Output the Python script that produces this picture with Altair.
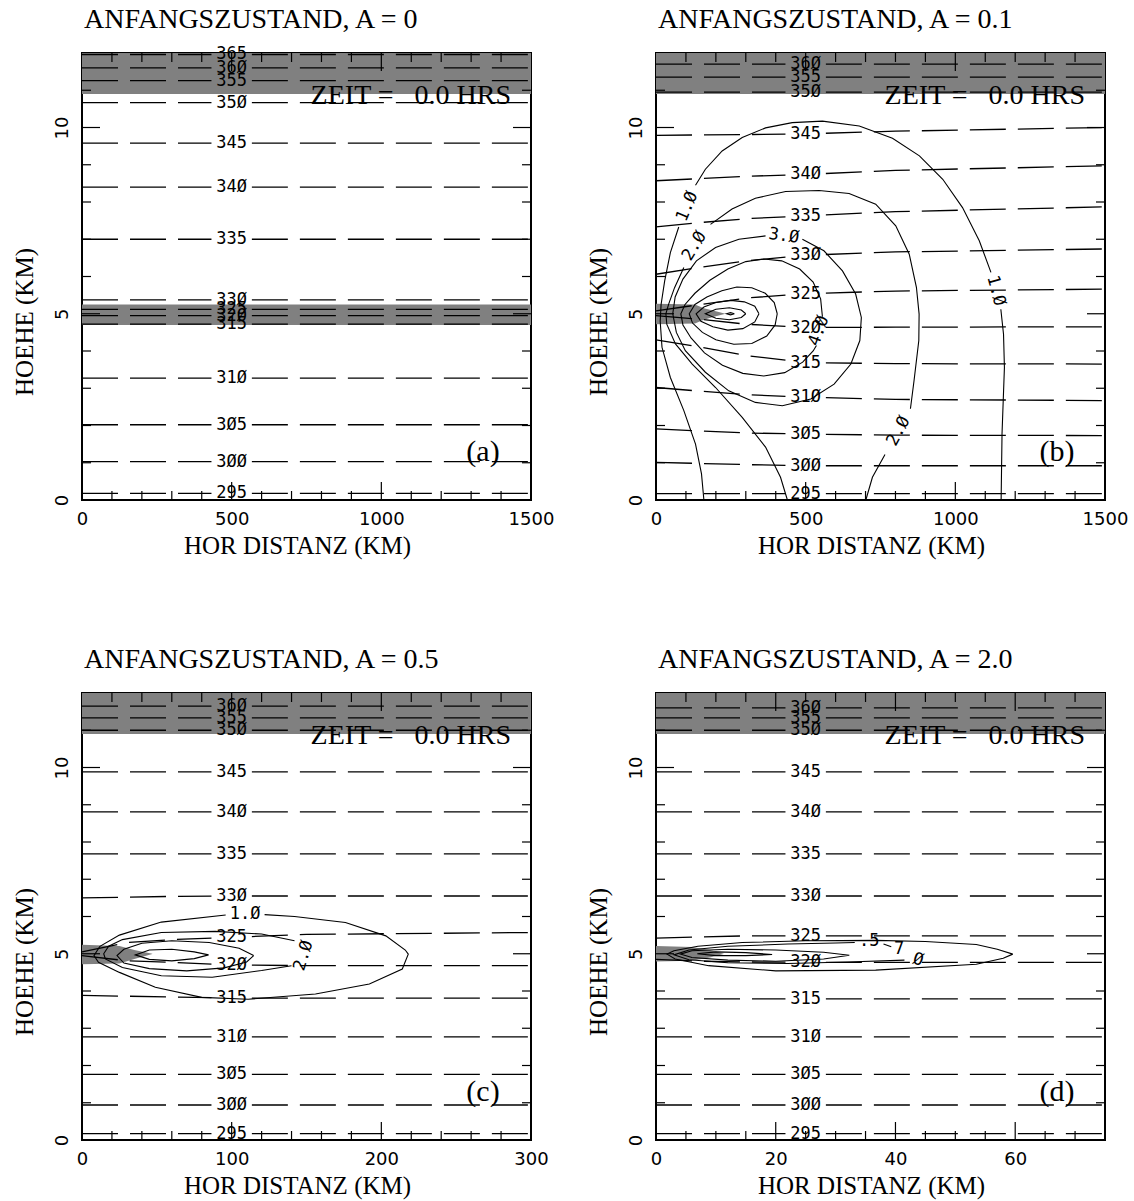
import altair as alt
import numpy as np
import pandas as pd

# ------------------------------------------------------------------ styling
SERIF = "Liberation Serif"
SANS = "DejaVu Sans"
MONO = "DejaVu Sans Mono"
GRAY = "#808080"
W, H = 449, 447          # plot area of every panel (px)
ZMAX = 12.0              # height axis (km)

# ------------------------------------------------------------------ isentropes (theta in K, height in km)
LEVELS = [295, 300, 305, 310, 315, 320, 325, 330, 335, 340, 345, 350, 355, 360, 365]

A_Z = {295: 0.18, 300: 1.03, 305: 2.02, 310: 3.27, 315: 4.72, 320: 4.95, 325: 5.12,
       330: 5.37, 335: 7.00, 340: 8.40, 345: 9.58, 350: 10.67, 355: 11.26, 360: 11.60,
       365: 11.96}

B_KNOTS = [0, 150, 300, 500, 800, 1500]
B_Z = {295: 0.17,
       300: [1.01, 0.98, 0.95, 0.92, 0.92, 0.92],
       305: [1.91, 1.85, 1.80, 1.77, 1.74, 1.73],
       310: [3.02, 2.92, 2.83, 2.76, 2.70, 2.67],
       315: [4.30, 4.10, 3.88, 3.69, 3.66, 3.65],
       320: [4.95, 4.85, 4.72, 4.63, 4.64, 4.65],
       325: [5.08, 5.25, 5.42, 5.54, 5.61, 5.66],
       330: [6.06, 6.25, 6.42, 6.57, 6.66, 6.74],
       335: [7.33, 7.45, 7.55, 7.63, 7.74, 7.87],
       340: [8.57, 8.63, 8.69, 8.74, 8.85, 8.97],
       345: [9.79, 9.80, 9.81, 9.83, 9.90, 10.00],
       350: 10.95, 355: 11.35, 360: 11.70}

C_KNOTS = [0, 30, 60, 100, 150, 300]
C_Z = {295: 0.17, 300: 0.94, 305: 1.76, 310: 2.77,
       315: [3.88, 3.86, 3.84, 3.81, 3.81, 3.81],
       320: [4.95, 4.81, 4.77, 4.70, 4.68, 4.68],
       325: [5.05, 5.30, 5.38, 5.44, 5.52, 5.57],
       330: [6.50, 6.52, 6.54, 6.55, 6.55, 6.55],
       335: 7.68, 340: 8.81, 345: 9.88, 350: 11.00, 355: 11.33, 360: 11.65}

D_KNOTS = [0, 7.5, 15, 25, 37.5, 75]
D_Z = {295: 0.17, 300: 0.94, 305: 1.76, 310: 2.77, 315: 3.79,
       320: [4.85, 4.80, 4.78, 4.77, 4.77, 4.77],
       325: [5.42, 5.45, 5.48, 5.48, 5.48, 5.48],
       330: 6.55, 335: 7.68, 340: 8.81, 345: 9.88, 350: 11.00, 355: 11.33, 360: 11.60}

# ------------------------------------------------------------------ shaded (high PV) regions
TOP_BAND = (10.9, 12.0)
A_MID_BAND = (4.70, 5.25)
B_TONGUE_X = [0, 130, 160, 200, 232]
B_TONGUE_LO = [4.72, 4.74, 4.84, 4.93, 5.00]
B_TONGUE_HI = [5.27, 5.25, 5.15, 5.07, 5.00]
C_TONGUE_X = [0, 25, 35, 47]
C_TONGUE_LO = [4.72, 4.74, 4.86, 4.99]
C_TONGUE_HI = [5.24, 5.21, 5.10, 5.00]
D_TONGUE_X = [0, 6, 9, 11.3]
D_TONGUE_LO = [4.79, 4.81, 4.90, 4.99]
D_TONGUE_HI = [5.21, 5.18, 5.10, 5.00]

# ------------------------------------------------------------------ anomaly contours (x km, z km)
B_CONTOURS = {
    "1a": [(1153, 0.0), (1156, 1.77), (1164, 3.56), (1161, 4.45), (1152, 5.12)],
    "1b": [(1119, 6.11), (1080, 6.96), (1024, 7.85), (958, 8.61), (880, 9.24), (790, 9.71),
           (679, 10.04), (556, 10.17), (455, 10.13), (366, 9.99), (288, 9.73), (221, 9.37),
           (165, 8.88), (132, 8.45)],
    "1c": [(76, 7.33), (48, 6.64), (29, 5.88), (17, 5.25), (14, 4.80), (20, 4.10), (48, 3.29),
           (93, 2.40), (132, 1.50), (152, 0.70), (160, 0.0)],
    "2a": [(701, 0.0), (723, 0.61), (765, 1.22)],
    "2b": [(850, 2.45), (862, 3.20), (878, 4.28), (879, 4.99), (870, 5.71), (846, 6.60),
           (801, 7.36), (734, 7.94), (645, 8.23), (545, 8.31), (433, 8.28), (332, 8.10),
           (254, 7.81), (182, 7.40)],
    "2c": [(93, 6.24), (62, 5.70), (42, 5.25), (33, 5.00), (36, 4.72), (65, 4.19), (121, 3.65),
           (199, 3.02), (288, 2.22), (366, 1.42), (416, 0.61), (439, 0.0)],
    "3": [(489, 7.00), (561, 6.69), (623, 6.15), (667, 5.53), (686, 4.90), (681, 4.28),
          (651, 3.65), (595, 3.11), (517, 2.71), (422, 2.53), (332, 2.62), (243, 2.93),
          (165, 3.43), (98, 4.01), (68, 4.50), (56, 5.00), (64, 5.45), (90, 5.93), (135, 6.42),
          (199, 6.78), (277, 7.00), (366, 7.09)],
    "4": [(556, 4.92), (550, 5.40), (525, 5.85), (480, 6.20), (420, 6.42), (360, 6.47),
          (300, 6.40), (240, 6.20), (180, 5.90), (130, 5.55), (97, 5.25), (83, 5.00), (90, 4.70),
          (117, 4.35), (162, 3.95), (222, 3.62), (290, 3.40), (360, 3.33), (430, 3.42),
          (490, 3.70), (525, 4.00), (536, 4.15)],
    "5": [(405, 5.00), (395, 5.30), (365, 5.55), (320, 5.70), (270, 5.72), (220, 5.62),
          (170, 5.45), (130, 5.25), (111, 5.00), (122, 4.75), (155, 4.50), (200, 4.30),
          (260, 4.18), (320, 4.20), (370, 4.40), (398, 4.70), (405, 5.00)],
    "6": [(344, 5.00), (330, 5.20), (295, 5.32), (250, 5.36), (200, 5.30), (160, 5.18),
          (134, 5.00), (150, 4.80), (190, 4.65), (240, 4.56), (290, 4.60), (330, 4.78),
          (344, 5.00)],
    "7": [(300, 5.00), (285, 5.10), (245, 5.16), (200, 5.12), (165, 5.00), (200, 4.88),
          (245, 4.84), (285, 4.90), (300, 5.00)],
    "8": [(262, 5.00), (249, 5.03), (236, 5.00), (249, 4.97), (262, 5.00)],
}
B_LABELS = [(1136, 5.62, "1.Ø", 75), (104, 7.88, "1.Ø", 293), (810, 1.85, "2.Ø", 299),
            (128, 6.82, "2.Ø", 302), (427, 7.09, "3.Ø", 8), (544, 4.54, "4.Ø", 290)]

C_CONTOURS = {
    "1": [(122, 6.05), (142, 6.00), (176, 5.84), (203, 5.48), (216, 5.10), (218, 4.99),
          (214, 4.59), (192, 4.19), (156, 3.92), (111, 3.78), (80, 3.83), (49, 4.10), (25, 4.50),
          (11, 4.77), (8, 4.95), (12, 5.20), (25, 5.50), (53, 5.85), (96, 6.04)],
    "2": [(142, 5.35), (120, 5.53), (89, 5.60), (53, 5.57), (27, 5.38), (17.8, 5.20),
          (14.5, 5.00), (15.6, 4.86), (27, 4.63), (53, 4.41), (87, 4.37), (120, 4.55),
          (140, 4.68)],
    "3": [(114.7, 4.95), (105, 5.15), (85, 5.30), (60, 5.35), (40, 5.28), (28, 5.12),
          (23.4, 4.95), (28, 4.75), (45, 4.60), (70, 4.54), (95, 4.62), (110, 4.78),
          (114.7, 4.95)],
    "4": [(84.6, 4.97), (75, 5.05), (60, 5.12), (45, 5.10), (35.6, 4.97), (45, 4.85),
          (60, 4.81), (75, 4.87), (84.6, 4.97)],
}
C_LABELS = [(109, 6.06, "1.Ø", 0), (148, 4.95, "2.Ø", 287)]

D_CONTOURS = {
    "1": [(59.6, 4.99), (57, 5.12), (53.5, 5.25), (45, 5.33), (36.7, 5.36), (25, 5.35),
          (14.4, 5.30), (7, 5.20), (3, 5.08), (1.84, 4.99), (3.2, 4.86), (8.8, 4.68),
          (20, 4.54), (36.7, 4.56), (53.5, 4.72), (58, 4.88), (59.6, 4.99)],
    "2a": [(41.5, 4.83), (32, 4.78), (22, 4.74), (12, 4.76), (5.5, 4.84), (3.0, 4.97),
           (5.5, 5.10), (12, 5.20), (22, 5.26), (30, 5.29), (33.2, 5.30)],
    "2b": [(38.0, 5.26), (39.3, 5.19)],
    "3": [(32.3, 4.96), (28, 5.04), (20, 5.10), (12, 5.12), (6, 5.08), (4.07, 4.99), (6, 4.90),
          (12, 4.83), (20, 4.80), (28, 4.86), (32.3, 4.96)],
    "4": [(19.4, 4.98), (15, 5.03), (10, 5.05), (6.9, 5.00), (10, 4.95), (15, 4.95),
          (19.4, 4.98)],
}
D_LABELS = [(35.6, 5.33, ".5", 0), (40.6, 5.12, "7", 0), (43.8, 4.84, "Ø", 15)]

# ------------------------------------------------------------------ panel setup
PANELS = {
    "a": dict(title="ANFANGSZUSTAND, A = 0", tag="(a)", xmax=1500, xlabels=[0, 500, 1000, 1500],
              xmajor=[500, 1000], xstep=100, knots=None, z=A_Z, contours={}, labels=[],
              regions={"mid": ([0, 1500], [A_MID_BAND[0]] * 2, [A_MID_BAND[1]] * 2)}),
    "b": dict(title="ANFANGSZUSTAND, A = 0.1", tag="(b)", xmax=1500, xlabels=[0, 500, 1000, 1500],
              xmajor=[500, 1000], xstep=100, knots=B_KNOTS, z=B_Z, contours=B_CONTOURS,
              labels=B_LABELS, regions={"tongue": (B_TONGUE_X, B_TONGUE_LO, B_TONGUE_HI)}),
    "c": dict(title="ANFANGSZUSTAND, A = 0.5", tag="(c)", xmax=300, xlabels=[0, 100, 200, 300],
              xmajor=[100, 200], xstep=20, knots=C_KNOTS, z=C_Z, contours=C_CONTOURS,
              labels=C_LABELS, regions={"tongue": (C_TONGUE_X, C_TONGUE_LO, C_TONGUE_HI)}),
    "d": dict(title="ANFANGSZUSTAND, A = 2.0", tag="(d)", xmax=75, xlabels=[0, 20, 40, 60],
              xmajor=[20, 40, 60], xstep=5, knots=D_KNOTS, z=D_Z, contours=D_CONTOURS,
              labels=D_LABELS, regions={"tongue": (D_TONGUE_X, D_TONGUE_LO, D_TONGUE_HI)}),
}
ZEIT = "ZEIT =\u00a0\u00a0\u00a00.0 HRS"


def slashed(s):
    return s.replace("0", "Ø")


def isentrope_frames(spec):
    """Split every isentrope at its label (placed at one third of the domain)."""
    xmax = spec["xmax"]
    xl = xmax / 3.0
    gap = 0.045 * xmax
    rows, labels = [], []
    for lev, zs in spec["z"].items():
        if np.isscalar(zs):
            kx, kz = [0, xmax], [zs, zs]
        else:
            kx, kz = spec["knots"], zs
        zl = float(np.interp(xl, kx, kz))
        labels.append({"x": xl, "z": zl, "t": slashed(str(lev))})
        for part, (x0, x1) in enumerate([(0, xl - gap), (xl + gap, xmax)]):
            xs = [x0] + [k for k in kx if x0 < k < x1] + [x1]
            for i, x in enumerate(xs):
                rows.append({"seg": f"{lev}-{part}", "x": x,
                             "z": float(np.interp(x, kx, kz)), "o": i})
    return pd.DataFrame(rows), pd.DataFrame(labels)


def region_frame(spec):
    xmax = spec["xmax"]
    regs = dict(spec["regions"])
    regs["top"] = ([0, xmax], [TOP_BAND[0]] * 2, [TOP_BAND[1]] * 2)
    rows = []
    for name, (xs, lo, hi) in regs.items():
        for x, a, b in zip(xs, lo, hi):
            rows.append({"region": name, "x": x, "lo": a, "hi": b})
    return pd.DataFrame(rows)


def contour_frame(segments):
    rows = []
    for name, pts in segments.items():
        for i, (x, z) in enumerate(pts):
            rows.append({"seg": name, "x": x, "z": z, "o": i})
    return pd.DataFrame(rows)


def make_panel(key):
    spec = PANELS[key]
    xmax = spec["xmax"]
    xscale = alt.Scale(domain=[0, xmax], nice=False, zero=False)
    yscale = alt.Scale(domain=[0, ZMAX], nice=False, zero=False)

    def X(field="x"):
        return alt.X(f"{field}:Q", scale=xscale, axis=alt.Axis(
            values=spec["xlabels"], format="d", labelFont=SANS, labelFontSize=18,
            labelColor="black", labelFlush=False, labelOverlap=False, labelPadding=10,
            ticks=False, domain=False, grid=False, title="HOR DISTANZ (KM)",
            titleFont=SERIF, titleFontSize=25, titleFontWeight="normal", titleColor="black",
            titlePadding=5, titleX=215))

    def Y(field="z"):
        return alt.Y(f"{field}:Q", scale=yscale, axis=alt.Axis(
            values=[0, 5, 10], format="d", labelFont=SANS, labelFontSize=18,
            labelColor="black", labelAngle=270, labelAlign="center",
            labelBaseline="bottom", labelFlush=False, labelOverlap=False, labelPadding=11,
            ticks=False, domain=False, grid=False, title="HOEHE (KM)", titleFont=SERIF,
            titleFontSize=25, titleFontWeight="normal", titleColor="black", titlePadding=16,
            titleY=H / 2 + 45))

    layers = []
    # shaded regions
    layers.append(alt.Chart(region_frame(spec)).mark_area(color=GRAY, opacity=1).encode(
        x=X(), y=Y("lo"), y2="hi:Q", detail="region:N"))

    # isentropes and their labels
    iso, iso_lab = isentrope_frames(spec)
    layers.append(alt.Chart(iso).mark_line(color="black", strokeWidth=1.3,
                                           strokeDash=[36, 12]).encode(
        x=X(), y=Y(), detail="seg:N", order="o:Q"))
    layers.append(alt.Chart(iso_lab).mark_text(font=MONO, fontSize=17, color="black",
                                               align="center", baseline="middle").encode(
        x=X(), y=Y(), text="t:N"))

    # anomaly contours and labels
    if spec["contours"]:
        layers.append(alt.Chart(contour_frame(spec["contours"])).mark_line(
            color="black", strokeWidth=1.1).encode(x=X(), y=Y(), detail="seg:N", order="o:Q"))
        lab = pd.DataFrame(spec["labels"], columns=["x", "z", "t", "a"])
        layers.append(alt.Chart(lab).mark_text(font=MONO, fontSize=17, color="black",
                                               align="center", baseline="middle").encode(
            x=X(), y=Y(), text="t:N", angle=alt.Angle("a:Q", scale=None)))

    # inward ticks on all four sides
    step = spec["xstep"]
    xminor = [v for v in np.arange(step, xmax, step) if not any(abs(v - m) < 1e-9 for m in spec["xmajor"])]
    yminor = [v for v in range(1, 12) if v not in (5, 10)]
    for vals, ln in ((xminor, 9), (spec["xmajor"], 18)):
        base = alt.Chart(pd.DataFrame({"x": vals})).mark_rule(color="black", strokeWidth=1.2)
        layers.append(base.encode(x=X(), y=alt.value(H), y2=alt.value(H - ln)))
        layers.append(base.encode(x=X(), y=alt.value(0), y2=alt.value(ln)))
    for vals, ln in ((yminor, 9), ([5, 10], 18)):
        base = alt.Chart(pd.DataFrame({"z": vals})).mark_rule(color="black", strokeWidth=1.2)
        layers.append(base.encode(y=Y(), x=alt.value(0), x2=alt.value(ln)))
        layers.append(base.encode(y=Y(), x=alt.value(W), x2=alt.value(W - ln)))

    # annotations: panel title, time stamp, panel tag
    layers.append(alt.Chart(pd.DataFrame({"t": [spec["title"]]})).mark_text(
        font=SERIF, fontSize=28, color="black", align="left", baseline="alphabetic").encode(
        x=alt.value(2), y=alt.value(-25), text="t:N"))
    layers.append(alt.Chart(pd.DataFrame({"t": [ZEIT]})).mark_text(
        font=SERIF, fontSize=28, color="black", align="right", baseline="alphabetic").encode(
        x=alt.value(429), y=alt.value(51), text="t:N"))
    layers.append(alt.Chart(pd.DataFrame({"t": [spec["tag"]]})).mark_text(
        font=SERIF, fontSize=30, color="black", align="center", baseline="alphabetic").encode(
        x=alt.value(401), y=alt.value(408), text="t:N"))

    return alt.layer(*layers).properties(width=W, height=H)


row1 = alt.hconcat(make_panel("a"), make_panel("b"), spacing=125, bounds="flush")
row2 = alt.hconcat(make_panel("c"), make_panel("d"), spacing=125, bounds="flush")
chart = alt.vconcat(row1, row2, spacing=86).properties(
    padding={"left": 11, "top": 5, "right": 5, "bottom": 5},
    background="white",
).configure_view(stroke="black", strokeWidth=2)

chart.save("out.html", embed_options={"renderer": "svg", "actions": False})
